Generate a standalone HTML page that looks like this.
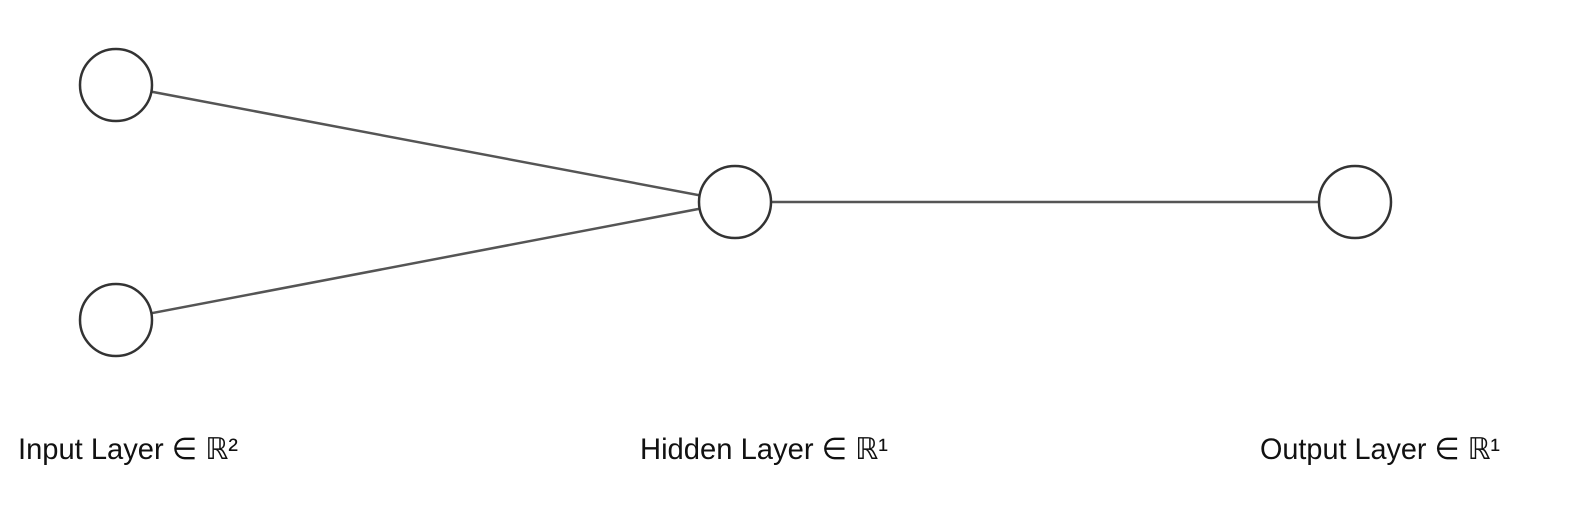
<!DOCTYPE html>
<html><head><meta charset="utf-8"><style>
html,body{margin:0;padding:0;background:#fff;}
svg{display:block;}
text{font-family:"Liberation Sans","DejaVu Sans",sans-serif;font-size:30px;fill:#111;}
</style></head><body>
<svg id="chart" width="1584" height="518" viewBox="0 0 1584 518" xmlns="http://www.w3.org/2000/svg">
<g id="edges"></g>
<g id="nodes"></g>
<g id="labels"></g>
</svg>
<script>
const layerNames = ["Input Layer ∈ ℝ²", "Hidden Layer ∈ ℝ¹", "Output Layer ∈ ℝ¹"];
const layerSizes = [2, 1, 1];
const layerX = [116, 735, 1355];
const nodeY = [[85, 320], [202], [202]];
const labelX = [18, 640, 1260];
const labelW = [220, 248, 240];
const R = 36;
const NS = "http://www.w3.org/2000/svg";
const E = document.getElementById('edges'), N = document.getElementById('nodes'), L = document.getElementById('labels');
for (let l = 0; l < layerSizes.length - 1; l++) {
  for (let i = 0; i < layerSizes[l]; i++) for (let j = 0; j < layerSizes[l+1]; j++) {
    const ln = document.createElementNS(NS, 'line');
    ln.setAttribute('x1', layerX[l]); ln.setAttribute('y1', nodeY[l][i]);
    ln.setAttribute('x2', layerX[l+1]); ln.setAttribute('y2', nodeY[l+1][j]);
    ln.setAttribute('stroke', '#555'); ln.setAttribute('stroke-width', '2.5');
    
    
    E.appendChild(ln);
  }
}
for (let l = 0; l < layerSizes.length; l++) {
  for (let i = 0; i < layerSizes[l]; i++) {
    const c = document.createElementNS(NS, 'circle');
    c.setAttribute('cx', layerX[l]); c.setAttribute('cy', nodeY[l][i]); c.setAttribute('r', R);
    c.setAttribute('fill', '#fff'); c.setAttribute('stroke', '#333'); c.setAttribute('stroke-width', '2.5');
    
    
    N.appendChild(c);
  }
  const t = document.createElementNS(NS, 'text');
  t.setAttribute('x', labelX[l]); t.setAttribute('y', 459);
  t.setAttribute('textLength', labelW[l]); t.setAttribute('lengthAdjust', 'spacingAndGlyphs');
  t.textContent = layerNames[l];
  
  
  L.appendChild(t);
}
</script>
</body></html>
